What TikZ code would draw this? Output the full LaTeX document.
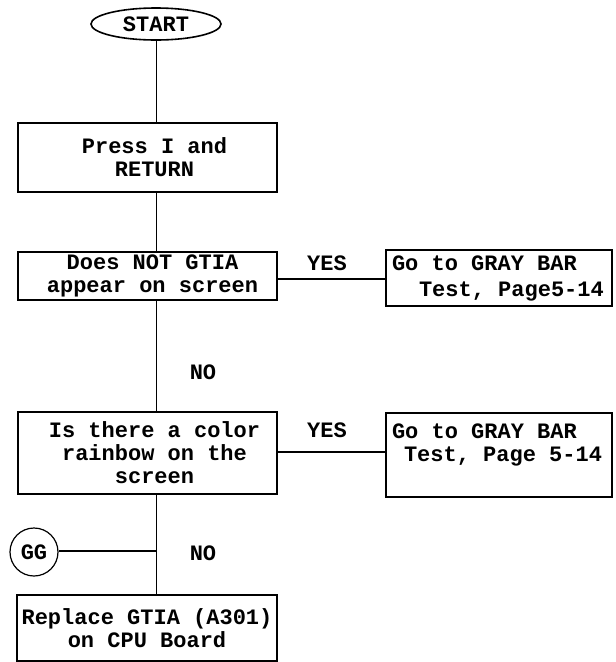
\documentclass[tikz,border=0pt]{standalone}
\usepackage{fontspec}
\setmonofont{Liberation Mono}
\usetikzlibrary{shapes.geometric}
\tikzset{
  txt/.style={font=\fontsize{22}{23}\selectfont\ttfamily\bfseries, inner sep=0pt},
  flowbox/.style={draw, line width=1.6pt, txt, align=center},
  gobox/.style={draw, line width=1.6pt, txt, align=left, text width=214pt, inner xsep=6pt,
    execute at begin node={\spaceskip=\fontdimen2\font\relax}},
  vline/.style={line width=1pt},
  hline/.style={line width=1.8pt}
}
\begin{document}
\begin{tikzpicture}[x=1pt,y=-1pt]
\useasboundingbox (0,0) rectangle (616,662);
% start
\node[ellipse, draw, line width=1.6pt, minimum width=130pt, minimum height=32pt, txt] (start) at (156,24) {START};
% boxes
\node[flowbox, minimum width=259pt, minimum height=69pt] (b1) at (147.5,157.5) {\hspace*{14pt}Press I and\\\hspace*{14pt}RETURN};
\node[flowbox, minimum width=259pt, minimum height=48pt] (b2) at (147.5,276) {\hspace*{10pt}Does NOT GTIA\\\hspace*{10pt}appear on screen};
\node[gobox, minimum width=226pt, minimum height=56pt] (r2) at (499,278) {Go to GRAY BAR\\[3pt]\hspace*{27pt}Test, Page5-14};
\node[flowbox, minimum width=259pt, minimum height=82pt] (b3) at (147.5,453) {\hspace*{14pt}Is there a color\\\hspace*{14pt}rainbow on the\\\hspace*{14pt}screen};
\node[gobox, minimum width=226pt, minimum height=84pt] (r3) at (499,455) {Go to GRAY BAR\\\hspace*{12pt}Test, Page 5-14\\[2pt]\mbox{}};
\node[flowbox, minimum width=260pt, minimum height=66pt] (b4) at (147,628) {Replace GTIA (A301)\\on CPU Board};
\node[circle, draw, line width=1.2pt, minimum size=48pt, txt] (gg) at (34,552) {GG};
% labels
\node[txt] (yes1) at (327,263) {YES};
\node[txt] (yes2) at (327,430) {YES};
\node[txt] (no1) at (203,372) {NO};
\node[txt] (no2) at (203,553) {NO};
% connectors
\coordinate (j) at (156,551);
\draw[vline] (start.south) -- (start.south |- b1.north);
\draw[vline] (156,0 |- b1.south) -- (156,0 |- b2.north);
\draw[vline] (156,0 |- b2.south) -- (156,0 |- b3.north);
\draw[vline] (156,0 |- b3.south) -- (156,0 |- b4.north);
\draw[hline] (b2.east |- 0,279) -- (r2.west |- 0,279);
\draw[hline] (b3.east |- 0,452) -- (r3.west |- 0,452);
\draw[hline] (gg.east |- j) -- (j);
\end{tikzpicture}
\end{document}
